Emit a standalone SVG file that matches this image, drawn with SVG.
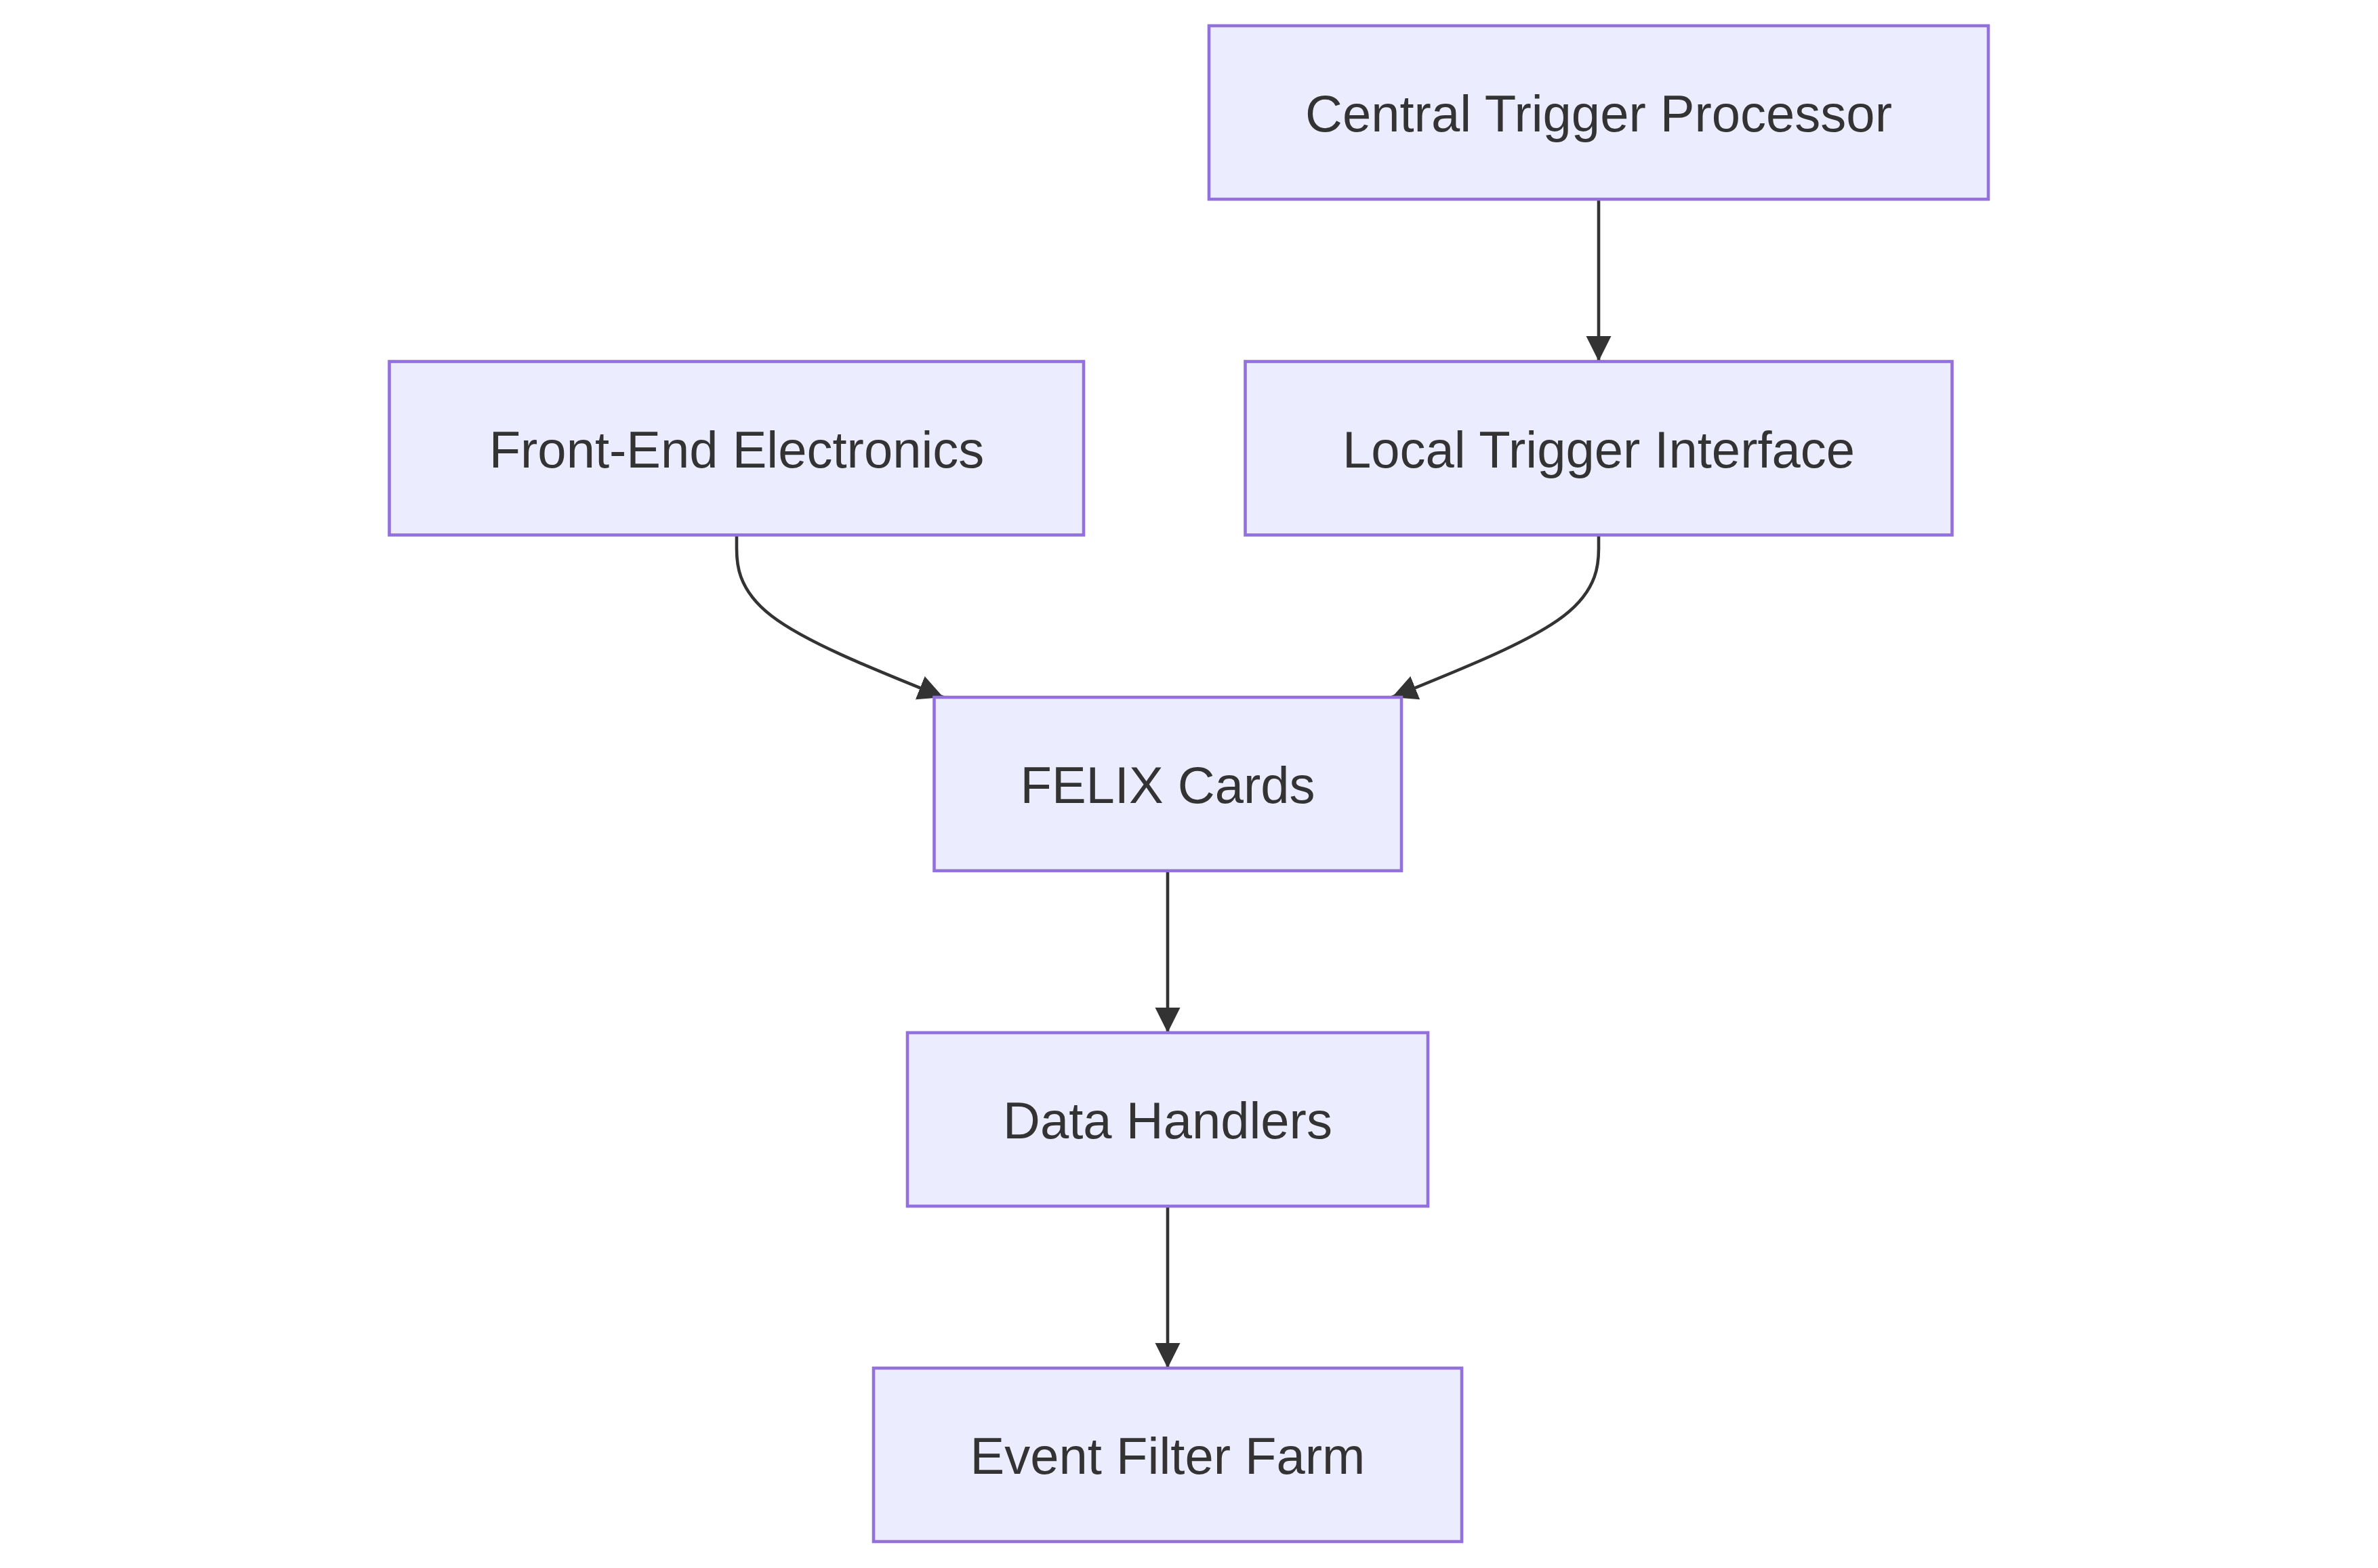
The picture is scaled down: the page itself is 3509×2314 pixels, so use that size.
<svg xmlns="http://www.w3.org/2000/svg" width="3509" height="2314" viewBox="0 0 3509 2314">
<style>
.node rect{fill:#ECECFF;stroke:#9370DB;stroke-width:4.6}
.node text{font-family:"Liberation Sans",Arial,sans-serif;font-size:76px;fill:#333333;text-anchor:middle}
.edge{fill:none;stroke:#333333;stroke-width:4.6}
</style>
<defs>
<marker id="arrow" viewBox="0 0 10 10" refX="10" refY="5" markerUnits="userSpaceOnUse" markerWidth="37" markerHeight="39" orient="auto">
<path d="M0,0 L10,5 L0,10 z" fill="#333333"/>
</marker>
</defs>
<rect width="3509" height="2314" fill="#ffffff"/>
<g id="connectors">
<path class="edge" d="M2359,294 L2359,533" marker-end="url(#arrow)"/>
<path class="edge" d="M1087,789.5 L1087,809.5 C1087,829 1087,869 1138,908.5 C1189,948 1290,988 1392,1029" marker-end="url(#arrow)"/>
<path class="edge" d="M2359,789.5 L2359,809.5 C2359,829 2359,869 2308,908.5 C2257,948 2155,988 2054,1029" marker-end="url(#arrow)"/>
<path class="edge" d="M1723,1285 L1723,1524" marker-end="url(#arrow)"/>
<path class="edge" d="M1723,1780 L1723,2019" marker-end="url(#arrow)"/>
</g>
<g id="ctp" class="node">
<rect x="1784" y="38" width="1150" height="256"/>
<text x="2359" y="194">Central Trigger Processor</text>
</g>
<g id="fee" class="node">
<rect x="574.5" y="533.5" width="1024.5" height="256"/>
<text x="1087" y="689.5">Front-End Electronics</text>
</g>
<g id="lti" class="node">
<rect x="1837.5" y="533.5" width="1043" height="256"/>
<text x="2359" y="689.5">Local Trigger Interface</text>
</g>
<g id="felix" class="node">
<rect x="1378.5" y="1029" width="689.5" height="256"/>
<text x="1723" y="1185">FELIX Cards</text>
</g>
<g id="dh" class="node">
<rect x="1339" y="1524" width="768" height="256"/>
<text x="1723" y="1680">Data Handlers</text>
</g>
<g id="eff" class="node">
<rect x="1289" y="2019" width="868" height="256"/>
<text x="1723" y="2175">Event Filter Farm</text>
</g>
</svg>
